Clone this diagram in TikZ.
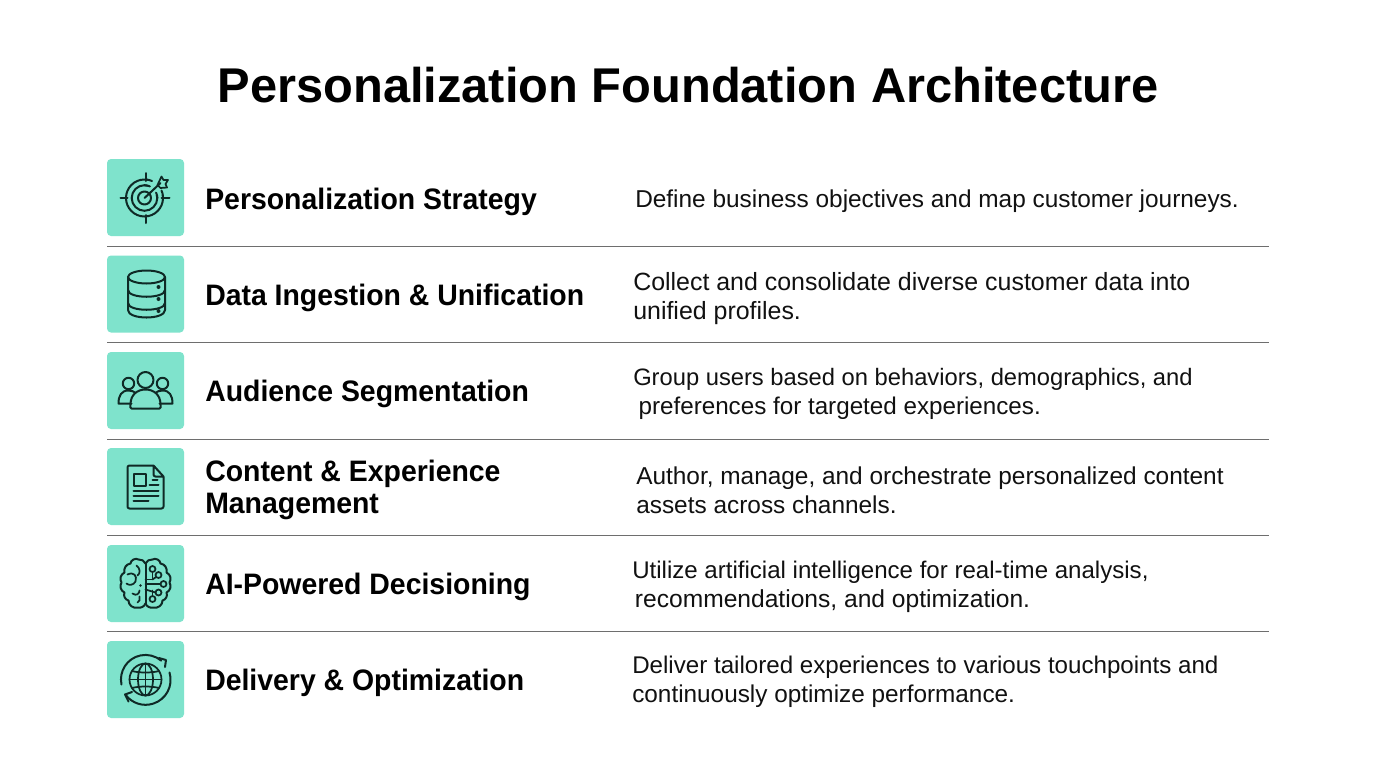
\documentclass[tikz,border=0pt]{standalone}
\usepackage{fontspec}
\setmainfont{Liberation Sans}
\newfontfamily\headfont[FakeStretch=0.96]{Liberation Sans}
\usetikzlibrary{arrows.meta}
\definecolor{tile}{HTML}{7FE3CC}
\definecolor{ink}{HTML}{0F2A26}
\definecolor{rulecol}{HTML}{6E6E6E}
\definecolor{txt}{HTML}{111111}
\tikzset{
 tilebox/.style={fill=tile,draw=none,rounded corners=3pt,minimum width=57.75pt,minimum height=57.75pt,inner sep=0pt,outer sep=0pt},
 headtext/.style={anchor=west,align=left,inner sep=0pt,text=black,font=\headfont\fontsize{22.2pt}{23.4pt}\selectfont\bfseries},
 desctext/.style={anchor=west,align=left,inner sep=0pt,text=txt},
 titletext/.style={inner sep=0pt,text=black,font=\fontsize{36.6pt}{40pt}\selectfont\bfseries},
 sep/.style={draw=rulecol,line width=0.75pt},
 icon/.style={draw=ink,line width=1.5pt,line cap=round,line join=round,fill=none},
 thinicon/.style={icon,line width=1.3pt},
}
\newcommand{\dfs}[1]{\fontsize{#1pt}{21.8pt}\selectfont}
\newcommand{\brainlobe}{%
 \draw[icon] (0,-20) to[bend right=35] (-7,-24) to[bend right=60] (-15,-20) to[bend right=50] (-21,-11) to[bend right=50] (-24,-1) to[bend right=50] (-21,9) to[bend right=50] (-17,17) to[bend right=55] (-8,24) to[bend right=40] (0,20);
}
\begin{document}
\begin{tikzpicture}[x=0.75pt,y=-0.75pt]
\useasboundingbox (0,0) rectangle (1376,768);
\fill[white] (0,0) rectangle (1376,768);
\node[titletext] (title) at (688,85) {Personalization Foundation Architecture};

\node[tilebox] (b1) at (145.5,197.5) {};
\node[tilebox] (b2) at (145.5,294) {};
\node[tilebox] (b3) at (145.5,390.5) {};
\node[tilebox] (b4) at (145.5,486.5) {};
\node[tilebox] (b5) at (145.5,583.5) {};
\node[tilebox] (b6) at (145.5,679.5) {};

\foreach \n/\y in {1/246,2/342.5,3/439,4/535,5/631}{
 \coordinate (la\n) at (107,\y);
 \coordinate (lb\n) at (1269,\y);
 \draw[sep] (la\n) -- (lb\n);
}

\node[headtext] (h1) at (205,202) {Personalization Strategy};
\node[headtext] (h2) at (205,298) {Data Ingestion \& Unification};
\node[headtext] (h3) at (205,394) {Audience Segmentation};
\node[headtext] (h4) at (205,490) {Content \& Experience\\Management};
\node[headtext] (h5) at (205,586.5) {AI-Powered Decisioning};
\node[headtext] (h6) at (205,682.5) {Delivery \& Optimization};

\node[desctext,font=\dfs{18.3}] (d1) at (635,201) {Define business objectives and map customer journeys.};
\node[desctext,font=\dfs{18.7}] (d2) at (633,298.5) {Collect and consolidate diverse customer data into\\unified profiles.};
\node[desctext,font=\dfs{17.8}] (d3) at (633,394) {Group users based on behaviors, demographics, and\\\dfs{18.15}\hspace*{4pt}preferences for targeted experiences.};
\node[desctext,font=\dfs{18.3}] (d4) at (636,490) {Author, manage, and orchestrate personalized content\\assets across channels.};
\node[desctext,font=\dfs{18.05}] (d5) at (632,586.5) {Utilize artificial intelligence for real-time analysis,\\\dfs{18.45}\hspace*{2pt}recommendations, and optimization.};
\node[desctext,font=\dfs{18.1}] (d6) at (632,681.5) {Deliver tailored experiences to various touchpoints and\\\dfs{18.25}continuously optimize performance.};

% target
\begin{scope}[shift={(b1.center)}]
 \begin{scope}[shift={(-1,0.5)}]
 \draw[icon] (0,0) circle[radius=18.5];
 \draw[icon] (0,0) circle[radius=12.8];
 \draw[icon] (0,0) circle[radius=6.5];
 \fill[tile] (3,-8) -- (3,-22) -- (25,-22) -- (25,-3) -- (8,-3) -- cycle;
 \draw[icon] (7.5,-17) arc[start angle=-66,end angle=-84,radius=18.5];
 \draw[icon] (17,-7.5) arc[start angle=-24,end angle=-6,radius=18.5];
 \draw[icon] (5.4,-11.6) arc[start angle=-65,end angle=-90,radius=12.8];
 \draw[icon] (11.6,-5.4) arc[start angle=-25,end angle=0,radius=12.8];
 \draw[icon] (1,-25) -- (1,-17) (1,17) -- (1,25) (-24,0) -- (-17,0) (17,0) -- (25,0);
 \draw[icon] (0,0) -- (16,-15);
 \draw[thinicon] (13,-13) -- (17,-21.5) -- (19,-18) -- (23.5,-18) -- (21,-14) -- (22.5,-10.5) -- (16,-10) -- cycle;
 \end{scope}
\end{scope}
% database
\begin{scope}[shift={(b2.center)}]
 \draw[icon] (1,-17) ellipse[x radius=18.5,y radius=6.5];
 \draw[icon] (-17.5,-17) -- (-17.5,16) .. controls (-17.5,26) and (19.5,26) .. (19.5,16) -- (19.5,-17);
 \draw[icon] (-17.5,-4) .. controls (-17.5,5) and (19.5,5) .. (19.5,-4);
 \draw[icon] (-17.5,9) .. controls (-17.5,18) and (19.5,18) .. (19.5,9);
 \fill[ink] (13,-7) circle[radius=2] (13,5) circle[radius=2] (13,17) circle[radius=2];
\end{scope}
% people
\begin{scope}[shift={(b3.center)}]
 \draw[icon] (0,-10.5) circle[radius=8];
 \draw[icon] (-17,-7) circle[radius=5.7];
 \draw[icon] (17,-7) circle[radius=5.7];
 \draw[icon] (-14,18) -- (14,18) .. controls (16,18) and (15,16) .. (15,14) .. controls (15,4) and (8,-1) .. (0,-1) .. controls (-8,-1) and (-15,4) .. (-15,14) .. controls (-15,16) and (-16,18) .. (-14,18) -- cycle;
 \draw[icon] (-14,13) -- (-27,13) .. controls (-27,5) and (-24,0) .. (-17,0) .. controls (-14,0) and (-12,1) .. (-10.5,2);
 \draw[icon] (14,13) -- (27,13) .. controls (27,5) and (24,0) .. (17,0) .. controls (14,0) and (12,1) .. (10.5,2);
\end{scope}
% document
\begin{scope}[shift={(b4.center)}]
 \draw[icon] (8,-21) -- (-16,-21) .. controls (-17.5,-21) and (-18,-20) .. (-18,-19) -- (-18,20) .. controls (-18,21) and (-17.5,22) .. (-16,22) -- (16,22) .. controls (17.5,22) and (18,21) .. (18,20) -- (18,-10) -- (8,-21) -- (8,-12) .. controls (8,-11) and (9,-10) .. (10,-10) -- (18,-10);
 \draw[icon] (-12,-13) rectangle (0,-1);
 \draw[icon] (7,-7) -- (12,-7) (4,-2) -- (13,-2) (-12,4) -- (13,4) (-12,9) -- (13,9) (-12,14) -- (3,14);
\end{scope}
% brain
\begin{scope}[shift={(b5.center)}]
 \brainlobe
 \begin{scope}[xscale=-1]\brainlobe\end{scope}
 \draw[icon] (0,-20) -- (0,20);
 \draw[thinicon] (-9,-18) .. controls (-5,-15) and (-5,-10) .. (-8,-8);
 \draw[thinicon] (-18,-9) .. controls (-12,-12) and (-8,-8) .. (-10,-2) .. controls (-12,2) and (-17,2) .. (-19,0);
 \draw[thinicon] (-13,10) .. controls (-9,13) and (-6,10) .. (-6,7);
 \draw[thinicon] (-6,13) .. controls (-5,16) and (-6,18) .. (-8,19);
 \fill[ink] (-5,2) circle[radius=1.3];
 \draw[thinicon] (7,-14.5) circle[radius=3] (13,-8.5) circle[radius=3] (18,0.5) circle[radius=3] (13,9) circle[radius=3] (7,15.5) circle[radius=3];
 \draw[thinicon] (7,-11.5) -- (7,-4) -- (0,-4);
 \draw[thinicon] (0,0.5) -- (15,0.5);
 \draw[thinicon] (0,6) -- (10,9);
 \draw[thinicon] (7,12.5) -- (7,7);
 \draw[thinicon] (10.5,-6.5) -- (7,-4);
\end{scope}
% globe
\begin{scope}[shift={(b6.center)}]
 \draw[thinicon] (0,0) circle[radius=16];
 \draw[thinicon] (0,0) ellipse[x radius=7.5,y radius=16];
 \draw[thinicon] (0,-16) -- (0,16) (-16,0) -- (16,0);
 \draw[thinicon] (-13.5,-8.5) .. controls (-6,-6.5) and (6,-6.5) .. (13.5,-8.5);
 \draw[thinicon] (-13.5,8.5) .. controls (-6,6.5) and (6,6.5) .. (13.5,8.5);
 \coordinate (ta) at (-24,5);
 \coordinate (tb) at (24,-7);
 \draw[icon] (ta) arc[start angle=168,end angle=310,radius=24.5];
 \draw[icon] (13.5,-21.5) -- (20.5,-19.5) -- (19.5,-12.5);
 \draw[icon] (tb) arc[start angle=-17,end angle=142,radius=25];
 \draw[icon] (-13.5,12.5) -- (-20.5,15) -- (-17,22);
\end{scope}
\end{tikzpicture}
\end{document}
